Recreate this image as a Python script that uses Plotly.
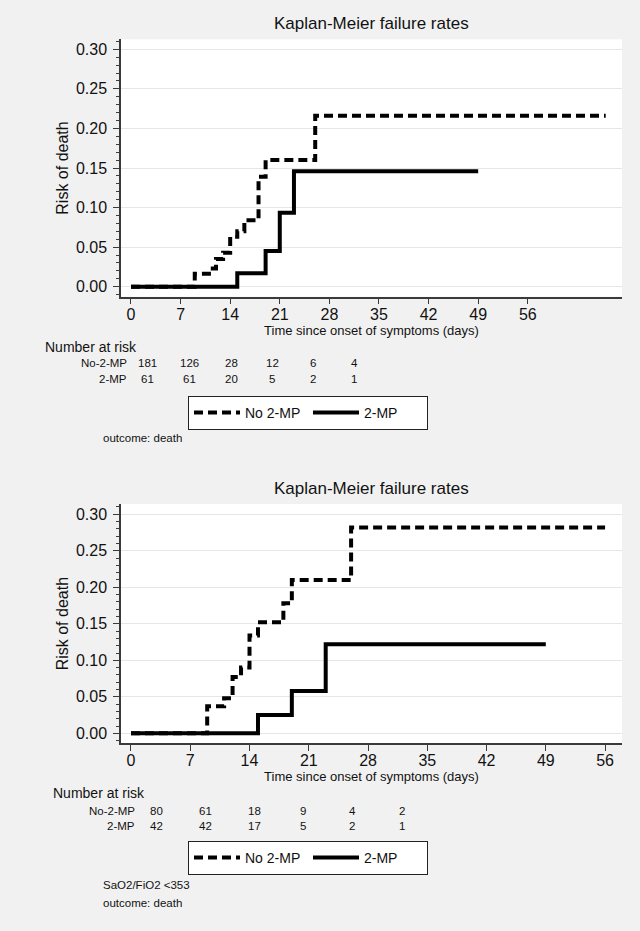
import plotly.graph_objects as go

W, H = 640, 931

# ---------------- data ----------------
# Top panel (all patients)
top_no_t = [0, 9, 11, 12, 13, 14, 15, 16, 18, 19, 26, 67]
top_no_f = [0, 0.0165, 0.023, 0.035, 0.043, 0.063, 0.070, 0.084, 0.139, 0.160, 0.216, 0.216]
top_mp_t = [0, 15, 19, 21, 23, 49]
top_mp_f = [0, 0.017, 0.045, 0.0935, 0.146, 0.146]

# Bottom panel (SaO2/FiO2 <353)
bot_no_t = [0, 9, 11, 12, 13, 14, 15, 18, 19, 26, 56]
bot_no_f = [0, 0.037, 0.048, 0.077, 0.090, 0.134, 0.152, 0.178, 0.210, 0.282, 0.282]
bot_mp_t = [0, 15, 19, 23, 49]
bot_mp_f = [0, 0.025, 0.058, 0.122, 0.122]

series_names = ["No 2-MP", "2-MP"]
risk_labels = ["No-2-MP", "2-MP"]
x_ticks = [0, 7, 14, 21, 28, 35, 42, 49, 56]
y_tick_step = 0.05
y_minor_step = 0.01

top_risk_no = [181, 126, 28, 12, 6, 4]
top_risk_mp = [61, 61, 20, 5, 2, 1]
bot_risk_no = [80, 61, 18, 9, 4, 2]
bot_risk_mp = [42, 42, 17, 5, 2, 1]

title_text = "Kaplan-Meier failure rates"
x_title = "Time since onset of symptoms (days)"
y_title = "Risk of death"
top_notes = ["outcome: death"]
bot_notes = ["SaO2/FiO2 <353", "outcome: death"]

# ---------------- layout helpers ----------------
FONT = "Liberation Sans, Arial, sans-serif"
AX = "#3a3a3a"


def px(x):
    return x / W


def py(y):
    return 1 - y / H


fig = go.Figure()

line_no = dict(color="black", width=4, dash="9px,5px")
line_mp = dict(color="black", width=4)

fig.add_trace(go.Scatter(x=top_no_t, y=top_no_f, mode="lines", line_shape="hv",
                         line=line_no, name=series_names[0], xaxis="x", yaxis="y",
                         legend="legend"))
fig.add_trace(go.Scatter(x=top_mp_t, y=top_mp_f, mode="lines", line_shape="hv",
                         line=line_mp, name=series_names[1], xaxis="x", yaxis="y",
                         legend="legend"))
fig.add_trace(go.Scatter(x=bot_no_t, y=bot_no_f, mode="lines", line_shape="hv",
                         line=line_no, name=series_names[0], xaxis="x2", yaxis="y2",
                         legend="legend2"))
fig.add_trace(go.Scatter(x=bot_mp_t, y=bot_mp_f, mode="lines", line_shape="hv",
                         line=line_mp, name=series_names[1], xaxis="x2", yaxis="y2",
                         legend="legend2"))

xdom = [px(121), px(622)]


def xaxis_cfg(rng, anchor):
    return dict(domain=xdom, range=rng, anchor=anchor, tickmode="array",
                tickvals=x_ticks, ticktext=[str(v) for v in x_ticks],
                showline=True, linecolor=AX, linewidth=1.5, ticks="outside",
                ticklen=6, tickcolor=AX, tickwidth=1.2, showgrid=False,
                zeroline=False, tickfont=dict(size=16, color="#111"),
                ticklabelstandoff=-4,
                title=dict(text=x_title, font=dict(size=13, color="#111"), standoff=1),
                automargin=False)


def yaxis_cfg(dom, rng, anchor):
    return dict(domain=dom, range=rng, anchor=anchor, tickmode="linear",
                tick0=0, dtick=y_tick_step, tickformat=".2f",
                showline=True, linecolor=AX, linewidth=1.5, ticks="outside",
                ticklen=6, tickcolor=AX, tickwidth=1.2, showgrid=True,
                gridcolor="#e6e6e6", gridwidth=1, zeroline=False,
                tickfont=dict(size=16, color="#111"), ticklabelstandoff=3,
                minor=dict(tick0=0, dtick=y_minor_step, ticks="outside", ticklen=3,
                           tickcolor=AX, tickwidth=1, showgrid=False),
                title=dict(text=y_title, font=dict(size=16, color="#111"), standoff=3),
                automargin=False)


legend_common = dict(orientation="h", xanchor="left", yanchor="top",
                      bgcolor="white", bordercolor="#222", borderwidth=1,
                      font=dict(size=14, family=FONT, color="#111"),
                      itemwidth=46, entrywidth=58, entrywidthmode="pixels",
                      itemclick=False, itemdoubleclick=False)

fig.update_layout(
    width=W, height=H,
    margin=dict(l=0, r=0, t=0, b=0),
    template="none",
    paper_bgcolor="#f1f1f1",
    plot_bgcolor="white",
    font=dict(family=FONT, color="#111"),
    showlegend=True,
    xaxis=xaxis_cfg([-1.41, 69.3], "y"),
    yaxis=yaxis_cfg([py(296.7), py(39.3)], [-0.0126, 0.3126], "x"),
    xaxis2=xaxis_cfg([-1.18, 58.0], "y2"),
    yaxis2=yaxis_cfg([py(743.3), py(504)], [-0.0137, 0.3141], "x2"),
    legend=dict(x=px(188), y=py(396), **legend_common),
    legend2=dict(x=px(188), y=py(841), **legend_common),
)

ann = []
# Panel titles
for yref in ["y domain", "y2 domain"]:
    xr = "x domain" if yref == "y domain" else "x2 domain"
    ann.append(dict(text=title_text, xref=xr, yref=yref, x=0.5, y=1,
                    xanchor="center", yanchor="bottom", yshift=4, showarrow=False,
                    font=dict(size=17, color="#111")))


def risk_table(y_head, x_head, y_rows, x_lab_right, x_cols, rows):
    out = [dict(text="Number at risk", xref="paper", yref="paper", x=px(x_head),
                y=py(y_head), xanchor="left", yanchor="middle", showarrow=False,
                font=dict(size=14, color="#111"))]
    for lab, yy, vals in zip(risk_labels, y_rows, rows):
        out.append(dict(text=lab, xref="paper", yref="paper", x=px(x_lab_right),
                        y=py(yy), xanchor="right", yanchor="middle", showarrow=False,
                        font=dict(size=11.5, color="#111")))
        for xc, v in zip(x_cols, vals):
            out.append(dict(text=str(v), xref="paper", yref="paper", x=px(xc),
                            y=py(yy), xanchor="center", yanchor="middle",
                            showarrow=False, font=dict(size=11.5, color="#111")))
    return out


ann += risk_table(347, 43, [363, 379], 128.5, [147, 189, 231, 272, 313, 354],
                  [top_risk_no, top_risk_mp])
ann += risk_table(793, 51, [810.5, 826], 137, [156, 205, 254, 303, 352, 402],
                  [bot_risk_no, bot_risk_mp])

for txt, yy in zip(top_notes, [438]):
    ann.append(dict(text=txt, xref="paper", yref="paper", x=px(101), y=py(yy),
                    xanchor="left", yanchor="middle", showarrow=False,
                    font=dict(size=11.5, color="#111")))
for txt, yy in zip(bot_notes, [885, 903]):
    ann.append(dict(text=txt, xref="paper", yref="paper", x=px(101), y=py(yy),
                    xanchor="left", yanchor="middle", showarrow=False,
                    font=dict(size=11.5, color="#111")))

fig.update_layout(annotations=ann)

fig.write_html("out.html", config={"displayModeBar": False},
               post_script="document.body.style.margin='0';"
                           "document.body.style.background='#f1f1f1';")
